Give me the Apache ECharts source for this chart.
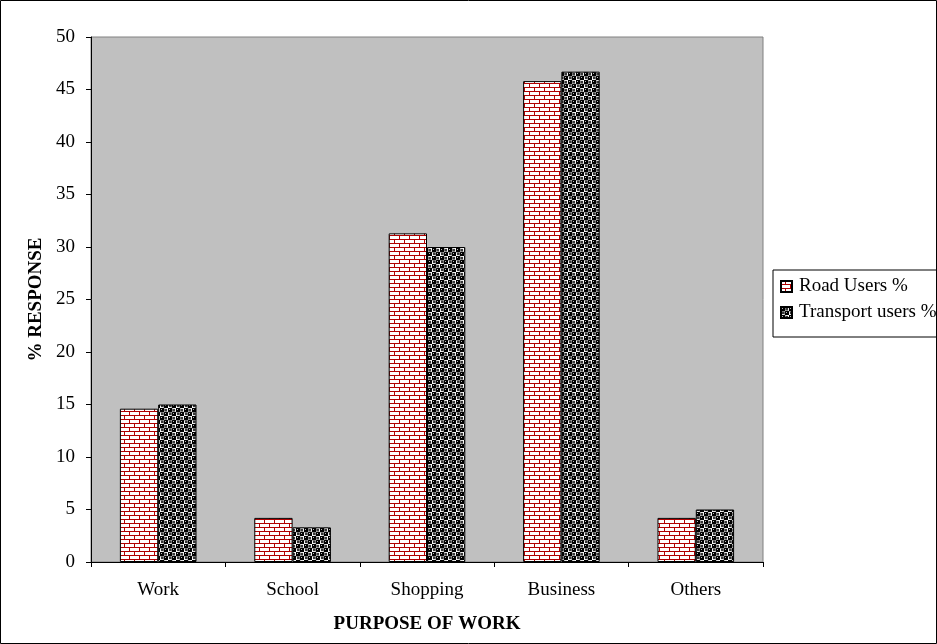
<!DOCTYPE html>
<html><head><meta charset="utf-8">
<script src="https://cdn.jsdelivr.net/npm/echarts@6/dist/echarts.min.js"></script>
<style>html,body{margin:0;padding:0;background:#fff}#c{width:937px;height:644px}</style>
</head><body><div id="c"></div>
<script>
const categories = ['Work', 'School', 'Shopping', 'Business', 'Others'];
const roadUsers = [14.6, 4.2, 31.3, 45.8, 4.2];
const transportUsers = [15.0, 3.3, 30.0, 46.7, 5.0];
const seriesNames = ['Road Users %', 'Transport users %'];

function brick() {
  const c = document.createElement('canvas'); c.width = 20; c.height = 8;
  const g = c.getContext('2d');
  g.fillStyle = '#fff'; g.fillRect(0, 0, 20, 8);
  g.fillStyle = '#b00000';
  g.fillRect(0, 3, 20, 1); g.fillRect(0, 7, 20, 1);
  g.fillRect(4, 0, 1, 3); g.fillRect(14, 0, 1, 3);
  g.fillRect(9, 4, 1, 3); g.fillRect(19, 4, 1, 3);
  return c;
}
function balls() {
  const c = document.createElement('canvas'); c.width = 8; c.height = 8;
  const g = c.getContext('2d');
  g.fillStyle = '#fff'; g.fillRect(0, 0, 8, 8);
  g.fillStyle = '#000';
  [[2,2],[6,6]].forEach(p=>{g.beginPath();g.arc(p[0],p[1],2.6,0,Math.PI*2);g.fill();});
  g.fillStyle = '#333';
  [[6,2],[2,6]].forEach(p=>{g.beginPath();g.arc(p[0],p[1],1.2,0,Math.PI*2);g.fill();});
  g.fillStyle = '#bbb';
  [[1,1],[5,5]].forEach(p=>{g.fillRect(p[0],p[1],1,1);});
  return c;
}
const chart = echarts.init(document.getElementById('c'));
const font = '"Liberation Serif", "Times New Roman", serif';
chart.setOption({
  animation: false,
  textStyle: { fontFamily: font },
  graphic: [{ type: 'rect', shape: { x: 0.5, y: 0.5, width: 936, height: 643 }, style: { fill: 'none', stroke: '#000', lineWidth: 1 }, z: 100 }],
  grid: { left: 91, right: 174, top: 37, bottom: 82, show: true, backgroundColor: '#c0c0c0', borderColor: '#808080', borderWidth: 1 },
  legend: {
    orient: 'vertical', left: 773, top: 270, itemWidth: 11, itemHeight: 11, itemGap: 7,
    borderColor: '#000', borderWidth: 1, padding: [7, 30, 15, 7], icon: 'rect',
    textStyle: { fontFamily: font, fontSize: 19, color: '#000', padding: [0, 0, 0, 2] },
    data: seriesNames
  },
  xAxis: {
    type: 'category', data: categories,
    name: 'PURPOSE OF WORK', nameLocation: 'middle', nameGap: 53,
    nameTextStyle: { fontFamily: font, fontWeight: 'bold', fontSize: 19, color: '#000' },
    axisLine: { lineStyle: { color: '#000' } },
    axisTick: { show: true, alignWithLabel: false, length: 5, lineStyle: { color: '#000' } },
    axisLabel: { fontFamily: font, fontSize: 19, color: '#000', margin: 19 }
  },
  yAxis: {
    type: 'value', min: 0, max: 50, interval: 5,
    name: '% RESPONSE', nameLocation: 'middle', nameGap: 43, nameRotate: 90,
    nameTextStyle: { fontFamily: font, fontWeight: 'bold', fontSize: 19, color: '#000' },
    axisLine: { show: true, lineStyle: { color: '#000' } },
    axisTick: { show: true, length: 5, lineStyle: { color: '#000' } },
    splitLine: { show: false },
    axisLabel: { fontFamily: font, fontSize: 19, color: '#000', margin: 16 }
  },
  series: [
    { name: seriesNames[0], type: 'bar', data: roadUsers, barGap: '0%', barCategoryGap: '43%',
      itemStyle: { color: { image: brick(), repeat: 'repeat' }, borderColor: '#000', borderWidth: 1 } },
    { name: seriesNames[1], type: 'bar', data: transportUsers,
      itemStyle: { color: { image: balls(), repeat: 'repeat' }, borderColor: '#000', borderWidth: 1 } }
  ]
});
</script></body></html>
